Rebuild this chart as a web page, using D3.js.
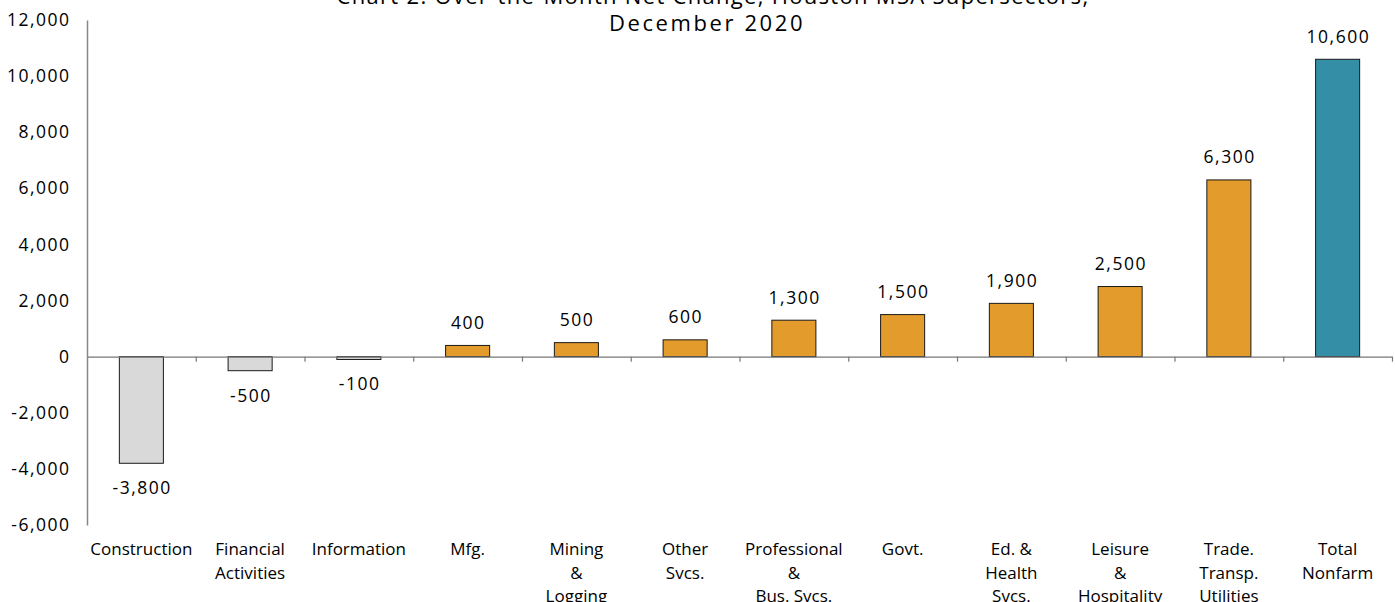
<!DOCTYPE html>
<html><head><meta charset="utf-8">
<script src="https://cdn.jsdelivr.net/npm/d3@7"></script>
<style>
html,body{margin:0;padding:0;background:#fff;}
svg{display:block;font-family:"Open Sans",sans-serif;}
</style></head>
<body>
<svg id="chart" width="1395" height="602"></svg>
<script>
const categories = [
  ["Construction"], ["Financial","Activities"], ["Information"], ["Mfg."],
  ["Mining","&","Logging"], ["Other","Svcs."], ["Professional","&","Bus. Svcs."],
  ["Govt."], ["Ed. &","Health","Svcs."], ["Leisure","&","Hospitality"],
  ["Trade.","Transp.","Utilities"], ["Total","Nonfarm"]
];
const values = [-3800, -500, -100, 400, 500, 600, 1300, 1500, 1900, 2500, 6300, 10600];
const groups = ["neg","neg","neg","pos","pos","pos","pos","pos","pos","pos","pos","total"];
const yTicks = [-6000,-4000,-2000,0,2000,4000,6000,8000,10000,12000];
const titleLines = ["Chart 2. Over-the-Month Net Change, Houston MSA Supersectors,", "December 2020"];

const colors = {neg:"#d9d9d9", pos:"#e39b2b", total:"#348ea6"};
const svg = d3.select("#chart");
const mLeft = 87, mRight = 1392, mTop = 20, mBottom = 525;

const x = d3.scaleBand().domain(d3.range(categories.length)).range([mLeft, mRight]).paddingInner(0.595).paddingOuter(0.2975);
const y = d3.scaleLinear().domain([-6000, 12000]).range([mBottom, mTop]);
const fmt = d => d3.format(",")(d).replace("\u2212","-");

// title
svg.append("g").selectAll("text").data(titleLines).join("text")
  .attr("x", (d,i)=> i===0 ? 713 : 707).attr("y", (d,i)=> 4 + i*27)
  .attr("text-anchor","middle").attr("font-size", 22).attr("fill","#000")
  .attr("letter-spacing",(d,i)=> i===0 ? 1.3 : 2.6)
  .text(d=>d);

// y axis
const yAxis = d3.axisLeft(y).tickValues(yTicks).tickFormat(fmt).tickSize(0).tickPadding(16.5);
const gy = svg.append("g").attr("transform",`translate(${mLeft},0)`).call(yAxis);
gy.select(".domain").attr("stroke","#888").attr("stroke-width",1.5);
gy.selectAll("text").attr("font-size",17.5).attr("letter-spacing",1.5).attr("fill","#000").attr("font-family","Open Sans");

// bars
svg.append("g").selectAll("rect").data(values).join("rect")
  .attr("x",(d,i)=>x(i)).attr("width",x.bandwidth())
  .attr("y",d=>y(Math.max(0,d))).attr("height",d=>Math.abs(y(d)-y(0)))
  .attr("fill",(d,i)=>colors[groups[i]]).attr("stroke","#1a1a1a").attr("stroke-width",1);

// zero axis with ticks at band boundaries
const xb = d3.scaleLinear().domain([0, categories.length]).range([mLeft, mRight]);
const xAxis = d3.axisBottom(xb).tickValues(d3.range(0, categories.length+1)).tickFormat("").tickSizeInner(5).tickSizeOuter(0);
const gx = svg.append("g").attr("transform",`translate(0,${y(0)})`).call(xAxis);
gx.select(".domain").attr("stroke","#777").attr("stroke-width",1.2);
gx.selectAll(".tick line").attr("stroke","#777").attr("stroke-width",1.2);
gx.selectAll(".tick").filter(d=>d===0).remove();

// value labels
svg.append("g").selectAll("text").data(values).join("text")
  .attr("x",(d,i)=>x(i)+x.bandwidth()/2 + 0.75)
  .attr("y",d=> d>=0 ? y(d)-16.5 : y(d)+31)
  .attr("text-anchor","middle").attr("font-size",17.5).attr("letter-spacing",1.5).attr("fill","#000")
  .text(d=>fmt(d));

// category labels
const cl = svg.append("g").selectAll("text").data(categories).join("text")
  .attr("x",(d,i)=>x(i)+x.bandwidth()/2).attr("y",555)
  .attr("text-anchor","middle").attr("font-size",17).attr("fill","#000");
cl.selectAll("tspan").data(d=>d).join("tspan")
  .attr("x",function(){return d3.select(this.parentNode).attr("x");})
  .attr("dy",(d,i)=> i===0?0:23.5).text(d=>d);
</script>
</body></html>
